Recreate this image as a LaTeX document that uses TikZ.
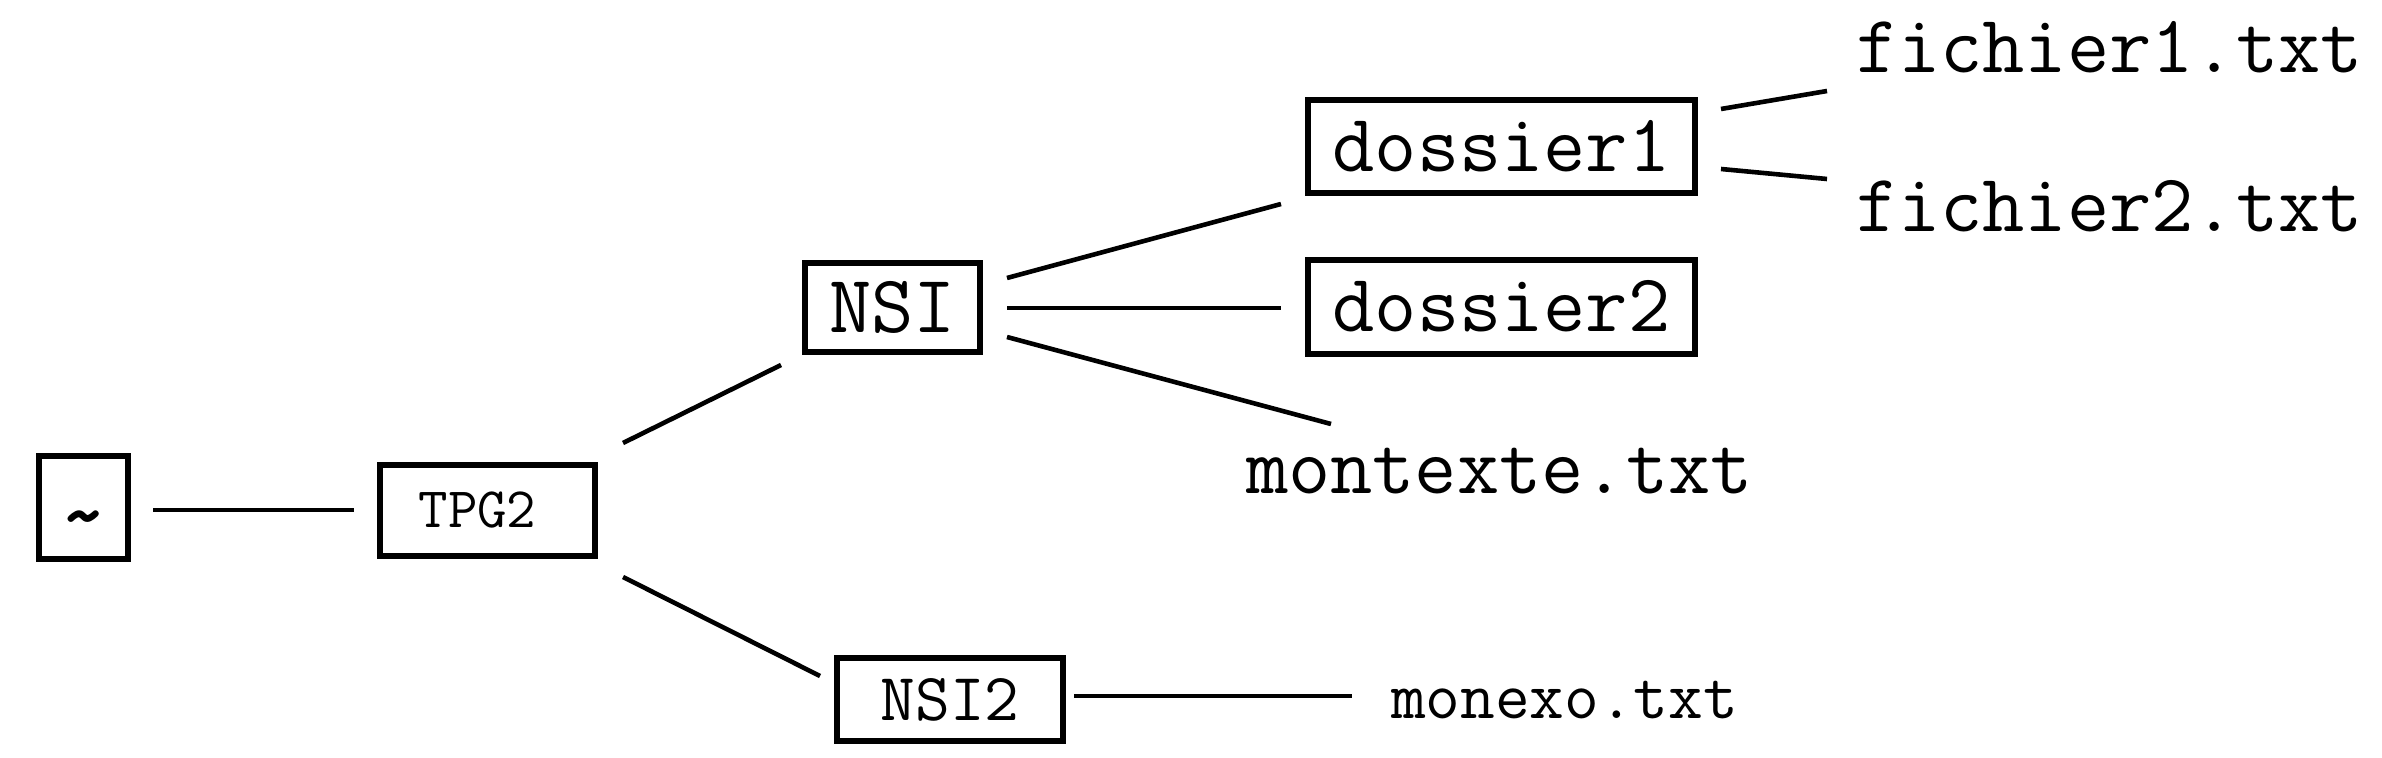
\documentclass[tikz,border=0pt]{standalone}
\usepackage{fontspec}
\begin{document}
\begin{tikzpicture}[x=0.5pt,y=-0.5pt,
  box/.style={draw,line width=2.6pt,inner sep=0pt,outer sep=0pt,text depth=0pt,anchor=center},
  lbl/.style={inner sep=0pt,outer sep=0pt,anchor=base west},
  conn/.style={line width=2.3pt},
  big/.style={font=\ttfamily\fontsize{41}{46}\selectfont,text height=25pt},
  mid/.style={font=\ttfamily\fontsize{33.7}{38}\selectfont,text height=20.6pt},
  small/.style={font=\ttfamily\fontsize{28.6}{32}\selectfont,text height=17.4pt}]
\useasboundingbox (0,0) rectangle (2382,758);
% boxes
\node[box,minimum width=89*0.5pt,minimum height=103*0.5pt,text height=10pt,font=\ttfamily\fontsize{44}{48}\selectfont\bfseries] (home) at (83.5,507.5) {\raisebox{-13pt}{\textasciitilde}};
\node[box,small,minimum width=215*0.5pt,minimum height=91*0.5pt] (tpg) at (487.5,510.5) {\hspace*{-10pt}TPG2};
\node[box,big,minimum width=175*0.5pt,minimum height=89*0.5pt] (nsi) at (892.5,307.5) {NSI};
\node[box,big,minimum width=387*0.5pt,minimum height=93*0.5pt] (d1) at (1501.5,146.5) {dossier1};
\node[box,big,minimum width=387*0.5pt,minimum height=94*0.5pt] (d2) at (1501.5,307) {dossier2};
\node[box,mid,minimum width=226*0.5pt,minimum height=83*0.5pt] (nsi2) at (950,699.5) {NSI2};
% files
\node[lbl,big] (mt) at (1246,494) {montexte.txt};
\node[lbl,big] (f1) at (1856,73) {fichier1.txt};
\node[lbl,big] (f2) at (1856,232) {fichier2.txt};
\node[lbl,mid] (mx) at (1391,718) {monexo.txt};
% connectors
\draw[conn] ([shift={(25,2.5)}]home.east) -- ([shift={(-26,-0.5)}]tpg.west);
\draw[conn] ([shift={(28,-22)}]tpg.north east) -- ([shift={(-24,13)}]nsi.south west);
\draw[conn] ([shift={(28,21)}]tpg.south east) -- ([shift={(-17,18)}]nsi2.north west);
\draw[conn] ([shift={(27,15)}]nsi.north east) -- ([shift={(-27,11)}]d1.south west);
\draw[conn] ([shift={(27,0.5)}]nsi.east) -- ([shift={(-27,1)}]d2.west);
\draw[conn] ([shift={(27,-15)}]nsi.south east) -- ([shift={(85,-70)}]mt.base west);
\draw[conn] ([shift={(26,9)}]d1.north east) -- ([shift={(-29,18)}]f1.base west);
\draw[conn] ([shift={(26,-24)}]d1.south east) -- ([shift={(-29,-53)}]f2.base west);
\draw[conn] ([shift={(11,-3.5)}]nsi2.east) -- ([shift={(-39,-22)}]mx.base west);
\end{tikzpicture}
\end{document}
